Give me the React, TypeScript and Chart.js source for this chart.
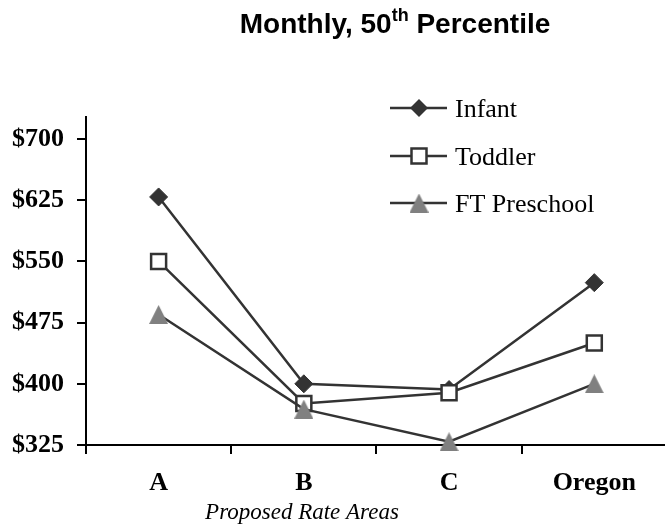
import React, { useEffect, useRef } from "react";
import { Chart, registerables } from "chart.js";

Chart.register(...registerables);

const categories = ["A", "B", "C", "Oregon"];
const infant = [629, 400, 393, 524];
const toddler = [550, 376, 389, 450];
const preschool = [485, 369, 329, 400];
const yTicks = [325, 400, 475, 550, 625, 700];
const seriesNames = ["Infant", "Toddler", "FT Preschool"];
const titleMain = "Monthly, 50";
const titleSup = "th";
const titleRest = " Percentile";
const xTitle = "Proposed Rate Areas";

const LINE = "#333333";
const TRI = "#808080";

function makeTriangle(size: number, color: string) {
  const c = document.createElement("canvas");
  c.width = size;
  c.height = size;
  const ctx = c.getContext("2d")!;
  ctx.fillStyle = color;
  ctx.beginPath();
  ctx.moveTo(size / 2, 0);
  ctx.lineTo(size, size);
  ctx.lineTo(0, size);
  ctx.closePath();
  ctx.fill();
  return c;
}

export default function App() {
  const ref = useRef<HTMLCanvasElement | null>(null);

  useEffect(() => {
    if (!ref.current) return;
    const tri = makeTriangle(19, TRI);

    const overlay = {
      id: "overlay",
      afterDraw(chart: any) {
        const ctx = chart.ctx as CanvasRenderingContext2D;
        ctx.save();
        // Title
        const fMain = 'bold 28px "Liberation Sans", Arial, sans-serif';
        const fSup = 'bold 18px "Liberation Sans", Arial, sans-serif';
        ctx.font = fMain;
        const w1 = ctx.measureText(titleMain).width;
        const w3 = ctx.measureText(titleRest).width;
        ctx.font = fSup;
        const w2 = ctx.measureText(titleSup).width;
        const total = w1 + w2 + w3;
        let x = 395 - total / 2;
        const by = 33;
        ctx.fillStyle = "#000";
        ctx.textBaseline = "alphabetic";
        ctx.textAlign = "left";
        ctx.font = fMain;
        ctx.fillText(titleMain, x, by);
        x += w1;
        ctx.font = fSup;
        ctx.fillText(titleSup, x, by - 12);
        x += w2;
        ctx.font = fMain;
        ctx.fillText(titleRest, x, by);

        // X axis title
        ctx.font = 'italic 23px "Liberation Serif", "Times New Roman", serif';
        ctx.textAlign = "center";
        ctx.fillText(xTitle, 302, 519);

        // Legend
        const rows = [108, 156, 203];
        ctx.textAlign = "left";
        ctx.font = '26px "Liberation Serif", "Times New Roman", serif';
        rows.forEach((ry, i) => {
          ctx.strokeStyle = LINE;
          ctx.lineWidth = 2.5;
          ctx.beginPath();
          ctx.moveTo(390, ry);
          ctx.lineTo(447, ry);
          ctx.stroke();
          const mx = 419;
          if (i === 0) {
            ctx.fillStyle = LINE;
            ctx.beginPath();
            ctx.moveTo(mx, ry - 9);
            ctx.lineTo(mx + 9, ry);
            ctx.lineTo(mx, ry + 9);
            ctx.lineTo(mx - 9, ry);
            ctx.closePath();
            ctx.fill();
          } else if (i === 1) {
            ctx.fillStyle = "#fff";
            ctx.fillRect(mx - 7.5, ry - 7.5, 15, 15);
            ctx.strokeStyle = LINE;
            ctx.lineWidth = 2.5;
            ctx.strokeRect(mx - 7.5, ry - 7.5, 15, 15);
          } else {
            ctx.drawImage(tri, mx - 9.5, ry - 9.5);
          }
          ctx.fillStyle = "#000";
          ctx.fillText(seriesNames[i], 455, ry + 9);
        });
        ctx.restore();
      },
    };

    const chart = new Chart(ref.current, {
      type: "line",
      data: {
        labels: categories,
        datasets: [
          {
            label: seriesNames[0],
            data: infant,
            borderColor: LINE,
            borderWidth: 2.5,
            pointStyle: "rectRot",
            pointRadius: 9,
            pointBackgroundColor: LINE,
            pointBorderColor: LINE,
            pointBorderWidth: 1,
            order: 3,
            clip: false,
          },
          {
            label: seriesNames[1],
            data: toddler,
            borderColor: LINE,
            borderWidth: 2.5,
            pointStyle: "rect",
            pointRadius: 10.6,
            pointBackgroundColor: "#ffffff",
            pointBorderColor: LINE,
            pointBorderWidth: 2.5,
            order: 2,
            clip: false,
          },
          {
            label: seriesNames[2],
            data: preschool,
            borderColor: LINE,
            borderWidth: 2.5,
            pointStyle: tri as any,
            pointRadius: 10,
            pointBackgroundColor: TRI,
            pointBorderColor: TRI,
            order: 1,
            clip: false,
          },
        ],
      },
      options: {
        responsive: false,
        animation: false,
        devicePixelRatio: 1,
        layout: { padding: { top: 117, right: 13, left: 0, bottom: 0 } },
        plugins: {
          legend: { display: false },
          title: { display: false },
          tooltip: { enabled: false },
        },
        scales: {
          x: {
            type: "category",
            offset: true,
            afterFit(scale: any) {
              scale.height = 87;
            },
            grid: {
              offset: true,
              drawOnChartArea: false,
              drawTicks: true,
              tickLength: 9,
              color: "#000",
              lineWidth: 2,
            },
            border: { color: "#000", width: 2 },
            ticks: {
              color: "#000",
              font: { family: '"Liberation Serif", "Times New Roman", serif', size: 26, weight: "bold" },
              padding: 14,
              maxRotation: 0,
              autoSkip: false,
            },
          },
          y: {
            min: 325,
            max: 727,
            afterFit(scale: any) {
              scale.width = 86;
            },
            afterBuildTicks(scale: any) {
              scale.ticks = yTicks.map((v) => ({ value: v }));
            },
            grid: {
              drawOnChartArea: false,
              drawTicks: true,
              tickLength: 9,
              color: "#000",
              lineWidth: 2,
            },
            border: { color: "#000", width: 2 },
            ticks: {
              color: "#000",
              font: { family: '"Liberation Serif", "Times New Roman", serif', size: 26, weight: "bold" },
              padding: 13,
              callback: (v: any) => "$" + v,
            },
          },
        },
      },
      plugins: [overlay],
    });
    return () => chart.destroy();
  }, []);

  return (
    <div style={{ position: "absolute", left: 0, top: 0, width: 665, height: 532, overflow: "hidden", background: "#fff" }}>
      <canvas ref={ref} width={680} height={532} style={{ display: "block" }} />
    </div>
  );
}
